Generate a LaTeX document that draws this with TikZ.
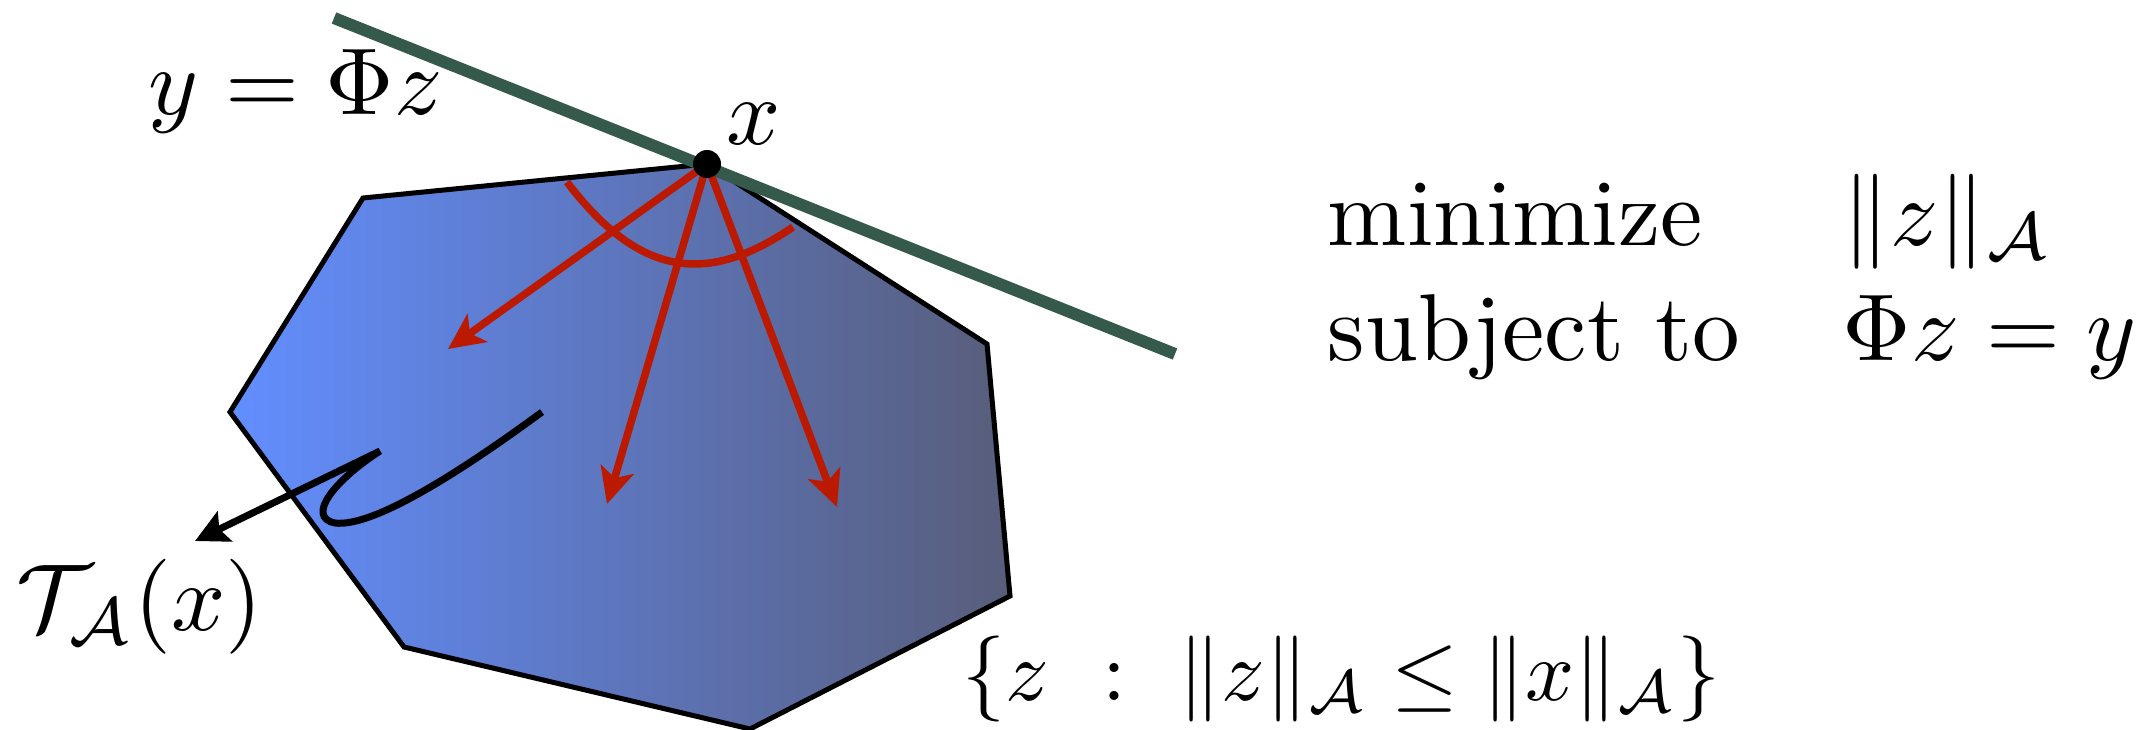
\documentclass[tikz,border=0pt]{standalone}
\usepackage{amsmath}
\usetikzlibrary{arrows.meta}
\definecolor{lineGreen}{RGB}{53,90,75}
\definecolor{redArr}{RGB}{187,25,0}
\definecolor{polyL}{RGB}{98,142,255}
\definecolor{polyM}{RGB}{95,124,212}
\definecolor{polyR}{RGB}{88,93,122}
\begin{document}
\begin{tikzpicture}[x=1pt,y=-1pt,
  lbl/.style={inner sep=0pt, anchor=base west, font=\fontsize{10}{12}\selectfont, scale=9.5, transform shape},
  setlbl/.style={inner sep=0pt, anchor=base west, font=\fontsize{10}{12}\selectfont, scale=8.6, transform shape},
  redarrow/.style={draw=redArr, line width=7.5pt, -{Stealth[length=36pt,width=34pt,inset=9pt]}},
  blackarrow/.style={draw=black, line width=7pt, -{Stealth[length=33pt,width=33pt,inset=6pt]}},
  polyedge/.style={draw=black, line width=5pt},
  constraint/.style={draw=lineGreen, line width=12pt, line cap=butt}]
\useasboundingbox (0,0) rectangle (2149,730);
% polygon vertices
\coordinate (pA) at (363,198);
\coordinate (xpt) at (707,164);
\coordinate (pB) at (987,344);
\coordinate (pC) at (1010,596);
\coordinate (pD) at (750,729);
\coordinate (pE) at (404,647);
\coordinate (pF) at (230,412);
\shade[left color=polyL, middle color=polyM, right color=polyR]
  (pA) -- (xpt) -- (pB) -- (pC) -- (pD) -- (pE) -- (pF) -- cycle;
\draw[polyedge] (pA) -- (xpt) -- (pB) -- (pC) -- (pD) -- (pE) -- (pF) -- cycle;
% constraint line
\coordinate (gS) at (334,18);
\coordinate (gE) at (1175,354);
\draw[constraint] (gS) -- (gE);
% red arc
\coordinate (arcS) at (567,182);
\coordinate (arcE) at (793,227);
\draw[draw=redArr, line width=7.5pt] (arcS) .. controls (645,285) and (715,280) .. (arcE);
% red arrows
\coordinate (r1) at (448,349);
\coordinate (r2) at (607,504);
\coordinate (r3) at (837,507);
\draw[redarrow] (xpt) -- (r1);
\draw[redarrow] (xpt) -- (r2);
\draw[redarrow] (xpt) -- (r3);
% squiggle to tangent cone label
\coordinate (sq0) at (542,412);
\coordinate (sqb) at (335,523);
\coordinate (sqc) at (380,451);
\coordinate (tTip) at (195,541);
\draw[blackarrow] (sq0) .. controls (470,465) and (375,528) .. (sqb)
   .. controls (305,517) and (335,480) .. (sqc) -- (tTip);
% point x
\fill[black] (xpt) circle[radius=14pt];
% labels
\node[lbl] (lblline) at (147,115) {$y=\Phi z$};
\node[lbl] (lblx) at (725,145) {$x$};
\node[lbl] (lblmin) at (1326,245) {minimize};
\node[lbl] (lblsub) at (1326,360) {subject to};
\node[lbl] (lblobj) at (1841,245) {$\|z\|_{\mathcal{A}}$};
\node[lbl] (lblcon) at (1841,360) {$\Phi z=y$};
\node[lbl] (lblcone) at (15,630) {$\mathcal{T}_{\mathcal{A}}(x)$};
\node[setlbl] (lblset) at (961,700) {$\{z\ :\ \|z\|_{\mathcal{A}}\le\|x\|_{\mathcal{A}}\}$};
\end{tikzpicture}
\end{document}
